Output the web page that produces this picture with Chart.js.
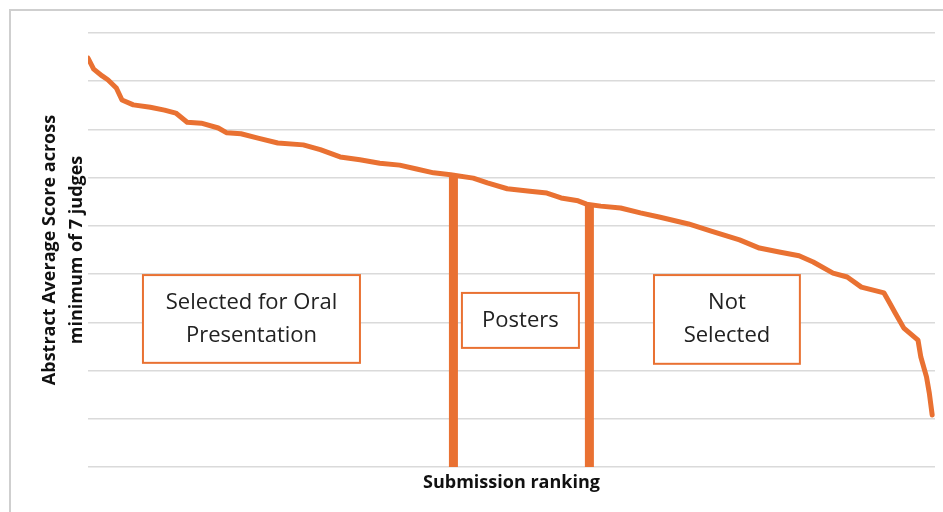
<!DOCTYPE html>
<html>
<head>
<meta charset="utf-8">
<script src="https://cdn.jsdelivr.net/npm/chart.js@4.4.1/dist/chart.umd.min.js"></script>
<style>
  html, body { margin: 0; padding: 0; background: #fff; overflow: hidden; }
  #wrap { position: relative; width: 943px; height: 512px; }
  #frame { position: absolute; left: 9px; top: 9px; width: 960px; height: 540px;
           border: 2px solid #cfcfcf; pointer-events: none; }
</style>
</head>
<body>
<div id="wrap">
  <canvas id="grafico" width="943" height="512"></canvas>
  <div id="frame"></div>
</div>
<script>
// submission ranking (1 = best) and the average score
const ranks = [1, 3, 6, 8, 11, 13, 17, 23, 28, 32, 36, 41, 47, 50, 55, 61, 68, 77, 83, 90,
  97, 104, 111, 117, 123, 129, 137, 142, 149, 157, 163, 168, 174, 177, 182, 189, 196, 203,
  213, 221, 231, 238, 245, 252, 257, 264, 269, 274, 282, 284, 286, 289, 294, 295, 297, 298, 299];
const scores = [8.48, 8.25, 8.11, 8.03, 7.86, 7.61, 7.51, 7.46, 7.40, 7.34, 7.15, 7.13, 7.03,
  6.93, 6.91, 6.82, 6.72, 6.68, 6.58, 6.43, 6.37, 6.30, 6.26, 6.18, 6.10, 6.06, 5.99, 5.89,
  5.77, 5.72, 5.68, 5.58, 5.52, 5.45, 5.41, 5.37, 5.27, 5.18, 5.04, 4.89, 4.71, 4.54, 4.46,
  4.38, 4.25, 4.02, 3.94, 3.73, 3.61, 3.40, 3.19, 2.88, 2.63, 2.28, 1.87, 1.53, 1.08];

// cut-off ranks between the groups and the score where each cut meets the curve
const cutoffRanks = [130, 178];
const cutoffScores = [6.05, 5.44];

// group labels
const groupLabels = [['Selected for Oral', 'Presentation'], ['Posters'], ['Not', 'Selected']];

const laranja = '#E97132';

const linha = ranks.map((r, i) => ({ x: r, y: scores[i] }));
const cortes = cutoffRanks.map((r, i) => ({
  data: [{ x: r, y: 0 }, { x: r, y: cutoffScores[i] }],
  borderColor: laranja,
  borderWidth: 9,
  borderCapStyle: 'butt',
  pointRadius: 0,
  showLine: true
}));

// boxes in data units: [rank from, rank to, score top, score bottom]
const caixas = [
  [20.4, 97.0, 3.98, 2.16],
  [133.0, 174.3, 3.61, 2.47],
  [200.8, 252.3, 3.98, 2.14]
];

const pluginCaixas = {
  id: 'caixas',
  afterDatasetsDraw(chart) {
    const { ctx, scales: { x, y } } = chart;
    ctx.save();
    caixas.forEach((c, i) => {
      const x0 = x.getPixelForValue(c[0]), x1 = x.getPixelForValue(c[1]);
      const y0 = y.getPixelForValue(c[2]), y1 = y.getPixelForValue(c[3]);
      ctx.fillStyle = '#fff';
      ctx.fillRect(x0, y0, x1 - x0, y1 - y0);
      ctx.strokeStyle = laranja;
      ctx.lineWidth = 2;
      ctx.strokeRect(x0, y0, x1 - x0, y1 - y0);
      ctx.fillStyle = '#222';
      ctx.font = '22px "Open Sans"';
      ctx.textAlign = 'center';
      ctx.textBaseline = 'middle';
      const linhas = groupLabels[i];
      const lh = 33;
      const cy = (y0 + y1) / 2 - (linhas.length - 1) * lh / 2;
      linhas.forEach((t, k) => ctx.fillText(t, (x0 + x1) / 2, cy + k * lh));
    });
    ctx.restore();
  }
};

const config = {
  type: 'scatter',
  data: {
    datasets: [{
      data: linha,
      borderColor: laranja,
      borderWidth: 5,
      borderCapStyle: 'round',
      borderJoinStyle: 'round',
      pointRadius: 0,
      showLine: true
    }, ...cortes]
  },
  options: {
    responsive: false,
    animation: false,
    layout: { padding: { left: 0, right: 8, top: 33, bottom: 0 } },
    plugins: { legend: { display: false }, tooltip: { enabled: false } },
    scales: {
      x: {
        type: 'linear',
        min: 1,
        max: 300,
        grid: { display: false },
        border: { display: false },
        ticks: { display: false },
        title: {
          display: true,
          text: 'Submission ranking',
          color: '#111',
          font: { family: '"Open Sans"', size: 18, weight: 'bold', lineHeight: 1.2 },
          padding: { top: 0, bottom: 18 }
        },
        afterFit(scale) { scale.height = 45; }
      },
      y: {
        min: 0,
        max: 9,
        ticks: { display: false, stepSize: 1 },
        grid: { color: '#dadada', lineWidth: 1.5, drawTicks: false },
        border: { display: false },
        title: {
          display: true,
          text: ['Abstract Average Score across', 'minimum of 7 judges'],
          color: '#111',
          font: { family: '"Open Sans"', size: 18, weight: 'bold', lineHeight: 1.5 },
          padding: { top: 36, bottom: 0 }
        },
        afterFit(scale) { scale.width = 88; }
      }
    }
  },
  plugins: [pluginCaixas]
};

// criação do gráfico
const ctx = document.getElementById('grafico').getContext('2d');
const grafico = new Chart(ctx, config);
</script>
</body>
</html>
